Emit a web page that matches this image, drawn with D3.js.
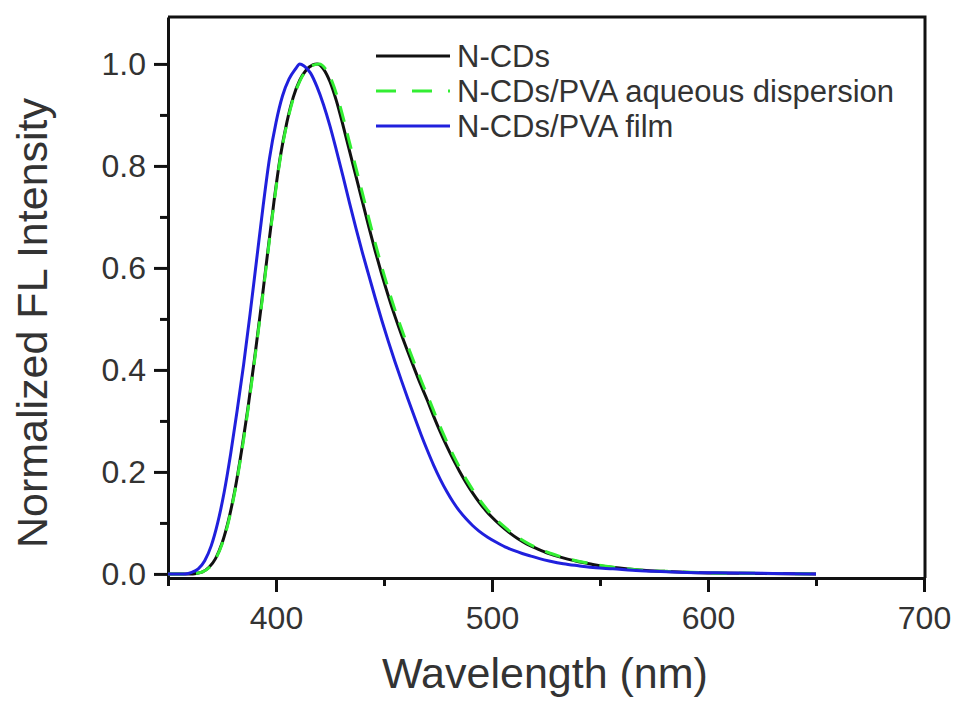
<!DOCTYPE html>
<html>
<head>
<meta charset="utf-8">
<script src="https://cdn.jsdelivr.net/npm/d3@7"></script>
<style>
  body { margin: 0; background: #fff; }
  svg { display: block; font-family: "Liberation Sans", Arial, sans-serif; }
  .axis path, .axis line { stroke: #111; stroke-width: 3; }
  .axis text { fill: #333; font-size: 32px; }
</style>
</head>
<body>
<div id="chart"></div>
<script>
// N-CDs (black solid)
const ncdsWl = [350, 360, 363, 366, 369, 372, 375, 378, 381, 384, 387, 390, 393, 396, 399, 402, 405, 408, 411, 414, 417, 419, 422, 425, 428, 431, 434, 437, 440, 443, 446, 449, 452, 455, 458, 461, 464, 467, 470, 473, 476, 479, 482, 485, 488, 491, 494, 497, 500, 504, 508, 512, 516, 520, 525, 530, 535, 540, 545, 550, 560, 570, 580, 600, 625, 650];
const ncdsFl = [0, 0, 0.001, 0.004, 0.013, 0.03, 0.06, 0.105, 0.165, 0.24, 0.325, 0.42, 0.52, 0.625, 0.728, 0.818, 0.885, 0.935, 0.968, 0.988, 0.998, 1.0, 0.99, 0.965, 0.927, 0.88, 0.83, 0.78, 0.73, 0.68, 0.632, 0.587, 0.545, 0.506, 0.47, 0.436, 0.403, 0.371, 0.341, 0.309, 0.279, 0.251, 0.225, 0.201, 0.179, 0.159, 0.141, 0.125, 0.111, 0.095, 0.081, 0.069, 0.059, 0.051, 0.042, 0.035, 0.029, 0.024, 0.02, 0.016, 0.011, 0.007, 0.005, 0.002, 0.001, 0];

// N-CDs/PVA aqueous dispersion (green dashed)
const dispWl = [350, 360, 363, 366, 369, 372, 375, 378, 381, 384, 387, 390, 393, 396, 399, 402, 405, 408, 411, 414, 417, 420, 423, 426, 429, 432, 435, 438, 441, 444, 447, 450, 453, 456, 459, 462, 465, 468, 471, 474, 477, 480, 483, 486, 489, 492, 495, 498, 501, 505, 509, 513, 517, 521, 526, 531, 536, 541, 546, 551, 561, 571, 581, 601, 626, 650];
const dispFl = [0, 0, 0.001, 0.004, 0.012, 0.029, 0.058, 0.102, 0.162, 0.236, 0.321, 0.416, 0.516, 0.621, 0.724, 0.815, 0.882, 0.932, 0.966, 0.987, 0.997, 1.0, 0.99, 0.965, 0.927, 0.88, 0.83, 0.78, 0.73, 0.68, 0.632, 0.587, 0.545, 0.506, 0.47, 0.436, 0.403, 0.371, 0.341, 0.309, 0.279, 0.251, 0.225, 0.201, 0.179, 0.159, 0.141, 0.125, 0.111, 0.095, 0.081, 0.069, 0.059, 0.051, 0.042, 0.035, 0.029, 0.024, 0.02, 0.016, 0.011, 0.007, 0.005, 0.002, 0.001, 0];

// N-CDs/PVA film (blue solid)
const filmWl = [350, 358, 361, 364, 367, 370, 373, 376, 379, 382, 385, 388, 391, 394, 397, 400, 403, 406, 409, 411, 413, 416, 419, 422, 425, 428, 431, 434, 437, 440, 443, 446, 449, 452, 455, 458, 461, 464, 467, 470, 473, 476, 479, 482, 485, 488, 491, 494, 498, 502, 506, 510, 514, 518, 522, 527, 533, 540, 548, 556, 565, 575, 590, 610, 630, 650];
const filmFl = [0, 0, 0.003, 0.01, 0.026, 0.055, 0.1, 0.16, 0.235, 0.32, 0.41, 0.51, 0.615, 0.72, 0.815, 0.885, 0.937, 0.97, 0.99, 1.0, 0.996, 0.982, 0.955, 0.92, 0.878, 0.83, 0.78, 0.728, 0.678, 0.63, 0.585, 0.54, 0.497, 0.456, 0.417, 0.38, 0.344, 0.309, 0.275, 0.243, 0.213, 0.186, 0.162, 0.141, 0.123, 0.108, 0.095, 0.084, 0.072, 0.062, 0.053, 0.046, 0.04, 0.035, 0.03, 0.025, 0.02, 0.016, 0.012, 0.01, 0.007, 0.005, 0.003, 0.002, 0.001, 0];

const seriesNames = ["N-CDs", "N-CDs/PVA aqueous dispersion", "N-CDs/PVA film"];
const xMajor = [400, 500, 600, 700];
const xMinor = [350, 450, 550, 650];
const yMajor = [0, 0.2, 0.4, 0.6, 0.8, 1.0];
const yMinor = [0.1, 0.3, 0.5, 0.7, 0.9];

const W = 957, H = 702;
const plotL = 168, plotR = 924, plotT = 17, plotB = 578;

const svg = d3.select("#chart").append("svg").attr("width", W).attr("height", H);
svg.append("rect").attr("width", W).attr("height", H).attr("fill", "#fff");

const x = d3.scaleLinear().domain([350, 700]).range([plotL, plotR]);
const y = d3.scaleLinear().domain([-0.008, 1.092]).range([plotB, plotT]);

// frame (top + right)
svg.append("path")
  .attr("d", `M${plotL},${plotT}H${plotR + 1}V${plotB}`)
  .attr("fill", "none").attr("stroke", "#111").attr("stroke-width", 3);

// axes: major + minor ticks
const gx = svg.append("g").attr("class", "axis").attr("transform", `translate(0,${plotB})`);
gx.call(d3.axisBottom(x).tickValues(xMajor).tickSize(14).tickSizeOuter(0).tickPadding(14).tickFormat(d3.format("d")));
gx.append("g").call(d3.axisBottom(x).tickValues(xMinor).tickSize(8).tickSizeOuter(0).tickFormat(""))
  .select(".domain").remove();

const gy = svg.append("g").attr("class", "axis").attr("transform", `translate(${plotL},0)`);
gy.call(d3.axisLeft(y).tickValues(yMajor).tickSize(14).tickSizeOuter(0).tickPadding(8).tickFormat(d3.format(".1f")));
gy.append("g").call(d3.axisLeft(y).tickValues(yMinor).tickSize(8).tickSizeOuter(0).tickFormat(""))
  .select(".domain").remove();

// curves
const line = d3.line().x(d => x(d[0])).y(d => y(d[1])).curve(d3.curveMonotoneX);
const zip = (a, b) => a.map((v, i) => [v, b[i]]);

const styles = [
  { color: "#111111", dash: null },
  { color: "#33ee33", dash: "16,12" },
  { color: "#2020dd", dash: null }
];
const series = [zip(ncdsWl, ncdsFl), zip(dispWl, dispFl), zip(filmWl, filmFl)];

series.forEach((s, i) => {
  svg.append("path")
    .datum(s)
    .attr("d", line)
    .attr("fill", "none")
    .attr("stroke", styles[i].color)
    .attr("stroke-width", 3)
    .attr("stroke-dasharray", styles[i].dash);
});

// legend
const legend = svg.append("g");
seriesNames.forEach((name, i) => {
  const by = 67 + i * 35;
  legend.append("line")
    .attr("x1", 376).attr("x2", 450)
    .attr("y1", by - 11).attr("y2", by - 11)
    .attr("stroke", styles[i].color).attr("stroke-width", 3)
    .attr("stroke-dasharray", i === 1 ? "20,16" : null);
  legend.append("text")
    .attr("x", 457).attr("y", by)
    .attr("font-size", 31).attr("fill", "#333")
    .text(name);
});

// axis titles
svg.append("text")
  .attr("x", 545).attr("y", 688)
  .attr("text-anchor", "middle")
  .attr("font-size", 43).attr("fill", "#333")
  .text("Wavelength (nm)");

svg.append("text")
  .attr("transform", "translate(47,323) rotate(-90)")
  .attr("text-anchor", "middle")
  .attr("font-size", 43).attr("fill", "#333")
  .text("Normalized FL Intensity");
</script>
</body>
</html>
